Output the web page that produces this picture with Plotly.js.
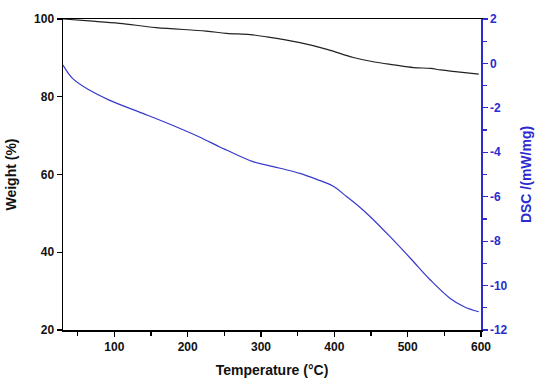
<!DOCTYPE html>
<html>
<head>
<meta charset="utf-8">
<script src="https://cdn.plot.ly/plotly-3.0.1.min.js"></script>
<style>html,body{margin:0;padding:0;background:#fff}#chart{width:550px;height:386px}</style>
</head>
<body>
<div id="chart"></div>
<script>
const tempWeight = [30, 66, 107, 157, 225, 253, 285, 308, 353, 390, 426, 453, 481, 508, 531, 545, 568, 597];
const weight =     [100, 99.5, 98.9, 97.8, 96.9, 96.3, 96.0, 95.4, 93.9, 92.2, 90.1, 89.0, 88.2, 87.5, 87.3, 86.9, 86.4, 85.8];

const tempDSC = [30, 43, 66, 93, 139, 184, 216, 243, 253, 289, 326, 353, 376, 398, 417, 434, 449, 476, 504, 531, 558, 577, 597];
const dsc =     [-0.07, -0.67, -1.20, -1.65, -2.25, -2.85, -3.31, -3.75, -3.90, -4.42, -4.72, -4.95, -5.22, -5.52, -6.0, -6.45, -6.9, -7.8, -8.78, -9.75, -10.58, -10.95, -11.18];

const xTicks = [100, 200, 300, 400, 500, 600];
const yTicks = [20, 40, 60, 80, 100];
const y2Ticks = [-12, -10, -8, -6, -4, -2, 0, 2];

const blue = '#2b2bd0';
const font = {family: 'Liberation Sans, Arial, sans-serif', size: 12, color: '#111'};

const data = [
  {x: tempWeight, y: weight, type: 'scatter', mode: 'lines', line: {color: '#222', width: 1.2, shape: 'spline'}, yaxis: 'y', hoverinfo: 'skip'},
  {x: tempDSC, y: dsc, type: 'scatter', mode: 'lines', line: {color: '#3838cc', width: 1.2, shape: 'spline'}, yaxis: 'y2', hoverinfo: 'skip'}
];

const layout = {
  width: 550, height: 386,
  margin: {l: 63, r: 69, t: 19, b: 56},
  paper_bgcolor: '#fff', plot_bgcolor: '#fff',
  showlegend: false,
  font: font,
  xaxis: {
    range: [30, 600], tickvals: xTicks, ticktext: xTicks.map(String),
    showgrid: false, zeroline: false, showline: true, linecolor: '#000', linewidth: 1.5, mirror: true,
    ticks: 'outside', ticklen: 5, tickwidth: 1.2, tickcolor: '#000',
    minor: {tickvals: [50, 150, 250, 350, 450, 550], ticks: 'outside', ticklen: 4, tickwidth: 1.2, tickcolor: '#000'},
    tickfont: {family: 'Liberation Sans, Arial, sans-serif', size: 12, color: '#111', weight: 'bold'},
    title: {text: 'Temperature (°C)', font: {family: 'Liberation Sans, Arial, sans-serif', size: 14, color: '#111', weight: 'bold'}, standoff: 12}
  },
  yaxis: {
    range: [20, 100], tickvals: yTicks, ticktext: yTicks.map(String),
    showgrid: false, zeroline: false, showline: true, linecolor: '#000', linewidth: 1.5,
    ticks: 'outside', ticklen: 5, tickwidth: 1.2, tickcolor: '#000',
    tickfont: {family: 'Liberation Sans, Arial, sans-serif', size: 12, color: '#111', weight: 'bold'},
    title: {text: 'Weight (%)', font: {family: 'Liberation Sans, Arial, sans-serif', size: 14, color: '#111', weight: 'bold'}, standoff: 14}
  },
  yaxis2: {
    overlaying: 'y', side: 'right', anchor: 'x',
    range: [-12, 2], tickvals: y2Ticks, ticktext: y2Ticks.map(String),
    showgrid: false, zeroline: false, showline: true, linecolor: blue, linewidth: 1.5,
    ticks: 'outside', ticklen: 5, tickwidth: 1.2, tickcolor: blue,
    minor: {tickvals: [-11, -9, -7, -5, -3, -1, 1], ticks: 'outside', ticklen: 4, tickwidth: 1.2, tickcolor: blue},
    tickfont: {family: 'Liberation Sans, Arial, sans-serif', size: 12, color: blue, weight: 'bold'},
    title: {text: 'DSC /(mW/mg)', font: {family: 'Liberation Sans, Arial, sans-serif', size: 14, color: blue, weight: 'bold'}, standoff: 14}
  }
};

Plotly.newPlot('chart', data, layout, {staticPlot: true, displayModeBar: false});
</script>
</body>
</html>
